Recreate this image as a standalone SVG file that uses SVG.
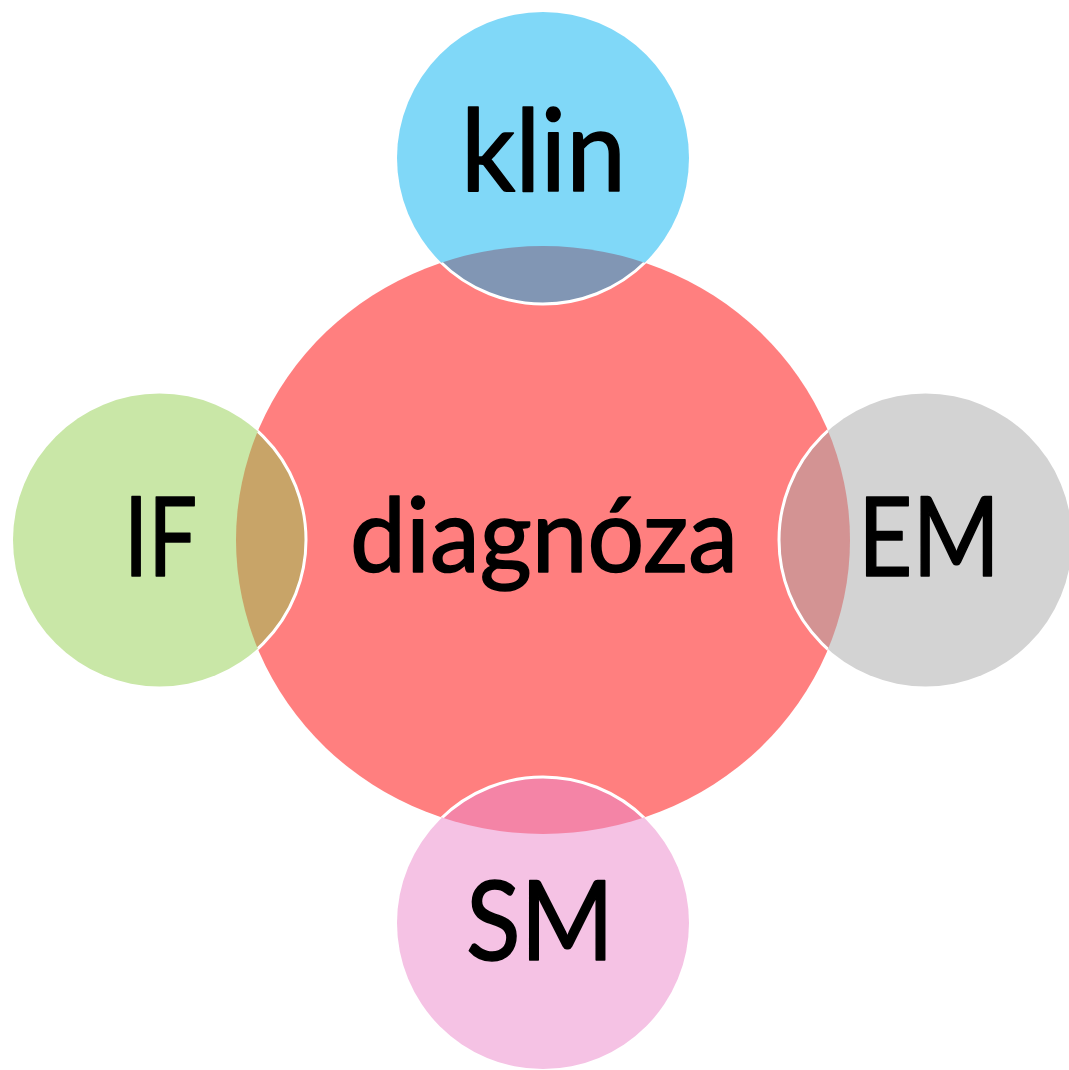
<svg xmlns="http://www.w3.org/2000/svg" width="1069" height="1070" viewBox="0 0 1069 1070">
<style>
.lbl{font-family:Lato,"Open Sans","Liberation Sans",sans-serif;fill:#000;stroke:#000;stroke-width:1.6;stroke-linejoin:round;text-anchor:middle}
.ring{fill:none;stroke:#fff;stroke-width:3}
</style>
<defs>
<clipPath id="ell"><ellipse cx="543" cy="540" rx="307" ry="294"/></clipPath>
</defs>
<rect width="1069" height="1070" fill="#fff"/>
<g id="center">
<ellipse cx="543" cy="540" rx="307" ry="294" fill="#FF7F7F"/>
</g>
<g id="klin">
<circle cx="543" cy="158" r="146" fill="#80D8F8"/>
<circle cx="543" cy="158" r="146" fill="#8196B4" clip-path="url(#ell)"/>
<circle cx="543" cy="158" r="146" class="ring" clip-path="url(#ell)"/>
<text class="lbl" x="543.5" y="191" font-size="115" textLength="165" lengthAdjust="spacingAndGlyphs">klin</text>
</g>
<g id="IF">
<circle cx="159.5" cy="540" r="146.5" fill="#C9E7A7"/>
<circle cx="159.5" cy="540" r="146.5" fill="#C8A468" clip-path="url(#ell)"/>
<circle cx="159.5" cy="540" r="146.5" class="ring" clip-path="url(#ell)"/>
<text class="lbl" x="160.5" y="576" font-size="110" textLength="73" lengthAdjust="spacingAndGlyphs">IF</text>
</g>
<g id="EM">
<circle cx="925.5" cy="540" r="146.5" fill="#D3D3D3"/>
<circle cx="925.5" cy="540" r="146.5" fill="#D39393" clip-path="url(#ell)"/>
<circle cx="925.5" cy="540" r="146.5" class="ring" clip-path="url(#ell)"/>
<text class="lbl" x="929" y="576" font-size="110" textLength="142" lengthAdjust="spacingAndGlyphs">EM</text>
</g>
<g id="SM">
<circle cx="543" cy="923" r="146" fill="#F5C2E4"/>
<circle cx="543" cy="923" r="146" fill="#F484A6" clip-path="url(#ell)"/>
<circle cx="543" cy="923" r="146" class="ring" clip-path="url(#ell)"/>
<text class="lbl" x="540" y="960" font-size="110" textLength="148" lengthAdjust="spacingAndGlyphs">SM</text>
</g>
<g id="diagnoza">
<text class="lbl" x="544" y="572" font-size="102" textLength="388" lengthAdjust="spacingAndGlyphs">diagnóza</text>
</g>
<g id="connectors"></g>
</svg>
